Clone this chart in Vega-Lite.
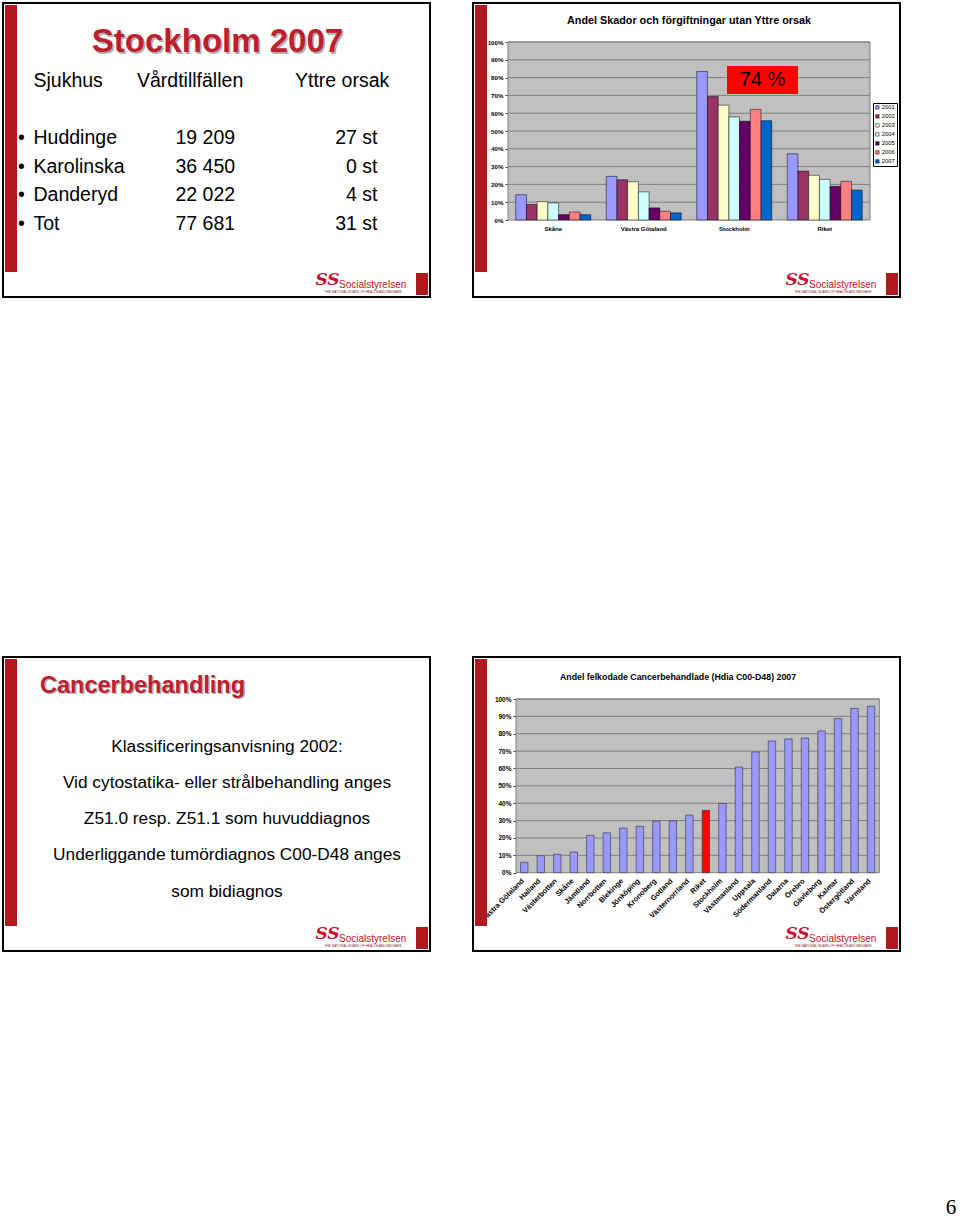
{
"$schema":"https://vega.github.io/schema/vega-lite/v6.json",
"width":960,"height":1218,"autosize":{"type":"none"},"padding":0,"background":"white",
"config":{"view":{"stroke":null},"font":"Liberation Sans","axis":{"labelFont":"Liberation Sans","labelColor":"black","domainColor":"#404040","tickColor":"#404040"},"legend":{"labelFont":"Liberation Sans"}},
"datasets":{
"slides":[{"c":0,"r":0},{"c":1,"r":0},{"c":0,"r":1},{"c":1,"r":1}],
"tl":[
{"a":"l","col":0,"line":0,"t":"Sjukhus"},{"a":"l","col":1,"line":0,"t":"Vårdtillfällen"},{"a":"l","col":3,"line":0,"t":"Yttre orsak"},
{"a":"l","col":-1,"line":2,"t":"•"},{"a":"l","col":-1,"line":3,"t":"•"},{"a":"l","col":-1,"line":4,"t":"•"},{"a":"l","col":-1,"line":5,"t":"•"},
{"a":"l","col":0,"line":2,"t":"Huddinge"},{"a":"l","col":0,"line":3,"t":"Karolinska"},{"a":"l","col":0,"line":4,"t":"Danderyd"},{"a":"l","col":0,"line":5,"t":"Tot"},
{"a":"l","col":2,"line":2,"t":"19 209"},{"a":"l","col":2,"line":3,"t":"36 450"},{"a":"l","col":2,"line":4,"t":"22 022"},{"a":"l","col":2,"line":5,"t":"77 681"},
{"a":"r","col":4,"line":2,"t":"27 st"},{"a":"r","col":4,"line":3,"t":"0 st"},{"a":"r","col":4,"line":4,"t":"4 st"},{"a":"r","col":4,"line":5,"t":"31 st"}],
"bl":[{"line":0,"t":"Klassificeringsanvisning 2002:"},{"line":1,"t":"Vid cytostatika- eller strålbehandling anges"},{"line":2,"t":"Z51.0 resp. Z51.1 som huvuddiagnos"},{"line":3,"t":"Underliggande tumördiagnos C00-D48 anges"},{"line":4,"t":"som bidiagnos"}],
"skador":[
{"region":"Skåne","year":"2001","value":0.142},{"region":"Skåne","year":"2002","value":0.087},{"region":"Skåne","year":"2003","value":0.103},{"region":"Skåne","year":"2004","value":0.096},{"region":"Skåne","year":"2005","value":0.030},{"region":"Skåne","year":"2006","value":0.045},{"region":"Skåne","year":"2007","value":0.030},
{"region":"Västra Götaland","year":"2001","value":0.245},{"region":"Västra Götaland","year":"2002","value":0.226},{"region":"Västra Götaland","year":"2003","value":0.215},{"region":"Västra Götaland","year":"2004","value":0.158},{"region":"Västra Götaland","year":"2005","value":0.068},{"region":"Västra Götaland","year":"2006","value":0.049},{"region":"Västra Götaland","year":"2007","value":0.040},
{"region":"Stockholm","year":"2001","value":0.834},{"region":"Stockholm","year":"2002","value":0.694},{"region":"Stockholm","year":"2003","value":0.645},{"region":"Stockholm","year":"2004","value":0.579},{"region":"Stockholm","year":"2005","value":0.555},{"region":"Stockholm","year":"2006","value":0.621},{"region":"Stockholm","year":"2007","value":0.558},
{"region":"Riket","year":"2001","value":0.372},{"region":"Riket","year":"2002","value":0.275},{"region":"Riket","year":"2003","value":0.251},{"region":"Riket","year":"2004","value":0.228},{"region":"Riket","year":"2005","value":0.189},{"region":"Riket","year":"2006","value":0.217},{"region":"Riket","year":"2007","value":0.168}],
"cancer":[
{"region":"Västra Götaland","value":0.060},{"region":"Halland","value":0.098},{"region":"Västerbotten","value":0.106},{"region":"Skåne","value":0.119},{"region":"Jämtland","value":0.215},{"region":"Norrbotten","value":0.230},{"region":"Blekinge","value":0.257},{"region":"Jönköping","value":0.267},{"region":"Kronoberg","value":0.296},{"region":"Gotland","value":0.298},{"region":"Västernorrland","value":0.332},{"region":"Riket","value":0.359},{"region":"Stockholm","value":0.399},{"region":"Västmanland","value":0.608},{"region":"Uppsala","value":0.695},{"region":"Södermanland","value":0.758},{"region":"Dalarna","value":0.770},{"region":"Örebro","value":0.775},{"region":"Gävleborg","value":0.816},{"region":"Kalmar","value":0.887},{"region":"Östergötland","value":0.946},{"region":"Värmland","value":0.958}],
"grid":[{"v":0.1},{"v":0.2},{"v":0.3},{"v":0.4},{"v":0.5},{"v":0.6},{"v":0.7},{"v":0.8},{"v":0.9},{"v":1.0}]
},
"layer":[
{"data":{"name":"slides"},"mark":{"type":"rect","filled":false,"stroke":"black","strokeWidth":2},
 "encoding":{"x":{"field":"c","type":"ordinal","axis":null,"scale":{"type":"band","range":[3,900],"paddingInner":0.091489,"paddingOuter":0}},
 "y":{"field":"r","type":"ordinal","axis":null,"scale":{"type":"band","range":[3,951],"paddingInner":0.550459,"paddingOuter":0}}}},
{"data":{"name":"slides"},"mark":{"type":"rect","color":"#B2191E"},
 "encoding":{"x":{"field":"c","type":"ordinal","axis":null,"scale":{"type":"band","range":[5,487],"paddingInner":0.974468,"paddingOuter":0}},
 "y":{"field":"r","type":"ordinal","axis":null,"scale":{"type":"band","range":[5,926],"paddingInner":0.591743,"paddingOuter":0}}}},
{"data":{"name":"slides"},"mark":{"type":"rect","color":"#B2191E"},
 "encoding":{"x":{"field":"c","type":"ordinal","axis":null,"scale":{"type":"band","range":[416,898],"paddingInner":0.974468,"paddingOuter":0}},
 "y":{"field":"r","type":"ordinal","axis":null,"scale":{"type":"band","range":[273,949],"paddingInner":0.966361,"paddingOuter":0}}}},
{"data":{"name":"slides"},"mark":{"type":"text","font":"DejaVu Serif","fontSize":17,"fontWeight":"bold","fontStyle":"italic","color":"#C8102E","align":"center","baseline":"alphabetic"},
 "encoding":{"text":{"value":"SS"},"x":{"field":"c","type":"ordinal","axis":null,"scale":{"type":"point","range":[327.5,797.5],"padding":0}},
 "y":{"field":"r","type":"ordinal","axis":null,"scale":{"type":"point","range":[285,939],"padding":0}}}},
{"data":{"name":"slides"},"mark":{"type":"text","fontSize":10,"color":"#C8102E","align":"left","baseline":"alphabetic"},
 "encoding":{"text":{"value":"Socialstyrelsen"},"x":{"field":"c","type":"ordinal","axis":null,"scale":{"type":"point","range":[339,809],"padding":0}},
 "y":{"field":"r","type":"ordinal","axis":null,"scale":{"type":"point","range":[287.5,941.5],"padding":0}}}},
{"data":{"name":"slides"},"mark":{"type":"text","fontSize":3.2,"color":"#8A2030","align":"center","baseline":"alphabetic"},
 "encoding":{"text":{"value":"THE NATIONAL BOARD OF HEALTH AND WELFARE"},"x":{"field":"c","type":"ordinal","axis":null,"scale":{"type":"point","range":[363,833],"padding":0}},
 "y":{"field":"r","type":"ordinal","axis":null,"scale":{"type":"point","range":[292.5,946.5],"padding":0}}}},
{"data":{"values":[{"p":"6"}]},"mark":{"type":"text","font":"Liberation Serif","fontSize":21,"color":"black","align":"center","baseline":"alphabetic"},
 "encoding":{"text":{"field":"p"},"x":{"field":"p","type":"nominal","axis":null,"scale":{"type":"point","range":[951,951]}},
 "y":{"field":"p","type":"nominal","axis":null,"scale":{"type":"point","range":[1214,1214]}}}},

{"data":{"values":[{"t":"Stockholm 2007"}]},"mark":{"type":"text","fontSize":33,"fontWeight":"bold","color":"#B0B0B0","align":"center","baseline":"alphabetic","dx":1.5,"dy":1.5},
 "encoding":{"text":{"field":"t"},"x":{"field":"t","type":"nominal","axis":null,"scale":{"type":"point","range":[217.5,217.5]}},
 "y":{"field":"t","type":"nominal","axis":null,"scale":{"type":"point","range":[52,52]}}}},
{"data":{"values":[{"t":"Stockholm 2007"}]},"mark":{"type":"text","fontSize":33,"fontWeight":"bold","color":"#BE1E2D","align":"center","baseline":"alphabetic"},
 "encoding":{"text":{"field":"t"},"x":{"field":"t","type":"nominal","axis":null,"scale":{"type":"point","range":[217.5,217.5]}},
 "y":{"field":"t","type":"nominal","axis":null,"scale":{"type":"point","range":[52,52]}}}},
{"data":{"name":"tl"},"transform":[{"filter":"datum.a === 'l'"}],"mark":{"type":"text","fontSize":19.5,"color":"black","align":"left","baseline":"alphabetic"},
 "encoding":{"text":{"field":"t"},
 "x":{"field":"col","type":"quantitative","axis":null,"scale":{"domain":[-1,0,1,2,3,4],"range":[18,33.5,137,175.5,295,377.5],"nice":false,"zero":false}},
 "y":{"field":"line","type":"quantitative","axis":null,"scale":{"domain":[0,5],"range":[87,229.5],"nice":false,"zero":false}}}},
{"data":{"name":"tl"},"transform":[{"filter":"datum.a === 'r'"}],"mark":{"type":"text","fontSize":19.5,"color":"black","align":"right","baseline":"alphabetic"},
 "encoding":{"text":{"field":"t"},
 "x":{"field":"col","type":"quantitative","axis":null,"scale":{"domain":[-1,0,1,2,3,4],"range":[18,33.5,137,175.5,295,377.5],"nice":false,"zero":false}},
 "y":{"field":"line","type":"quantitative","axis":null,"scale":{"domain":[0,5],"range":[87,229.5],"nice":false,"zero":false}}}},

{"data":{"values":[{"t":"Cancerbehandling"}]},"mark":{"type":"text","fontSize":23.5,"fontWeight":"bold","color":"#B0B0B0","align":"left","baseline":"alphabetic","dx":1.5,"dy":1.5},
 "encoding":{"text":{"field":"t"},"x":{"field":"t","type":"nominal","axis":null,"scale":{"type":"point","range":[40,40]}},
 "y":{"field":"t","type":"nominal","axis":null,"scale":{"type":"point","range":[692.5,692.5]}}}},
{"data":{"values":[{"t":"Cancerbehandling"}]},"mark":{"type":"text","fontSize":23.5,"fontWeight":"bold","color":"#BE1E2D","align":"left","baseline":"alphabetic"},
 "encoding":{"text":{"field":"t"},"x":{"field":"t","type":"nominal","axis":null,"scale":{"type":"point","range":[40,40]}},
 "y":{"field":"t","type":"nominal","axis":null,"scale":{"type":"point","range":[692.5,692.5]}}}},
{"data":{"name":"bl"},"mark":{"type":"text","fontSize":17.3,"color":"black","align":"center","baseline":"alphabetic"},
 "encoding":{"text":{"field":"t"},
 "x":{"datum":"body","type":"nominal","axis":null,"scale":{"type":"point","range":[227,227]}},
 "y":{"field":"line","type":"quantitative","axis":null,"scale":{"domain":[0,4],"range":[752,896.5],"nice":false,"zero":false}}}},

{"data":{"values":[{}]},"mark":{"type":"rect","fill":"#C0C0C0","stroke":"#808080","strokeWidth":1},
 "encoding":{"x":{"datum":0,"type":"quantitative","axis":null,"scale":{"domain":[0,1],"range":[508,870],"nice":false,"zero":false}},"x2":{"datum":1},
 "y":{"datum":0,"type":"quantitative","axis":null,"scale":{"domain":[0,1],"range":[220,42],"nice":false,"zero":false}},"y2":{"datum":1}}},
{"data":{"name":"grid"},"mark":{"type":"rule","stroke":"#808080","strokeWidth":1},
 "encoding":{"x":{"datum":0,"type":"quantitative","axis":null,"scale":{"domain":[0,1],"range":[508,870],"nice":false,"zero":false}},"x2":{"datum":1},
 "y":{"field":"v","type":"quantitative","scale":{"domain":[0,1],"range":[220,42],"nice":false,"zero":false},
  "axis":{"orient":"left","offset":-508,"values":[0,0.1,0.2,0.3,0.4,0.5,0.6,0.7,0.8,0.9,1],"format":".0%","grid":false,"domain":false,"tickSize":3,"labelPadding":2,"labelFontSize":6.2,"labelFontWeight":"bold","title":null}}}},
{"data":{"name":"skador"},"mark":{"type":"bar","stroke":"black","strokeWidth":0.5},
 "encoding":{
 "x":{"field":"region","type":"nominal","sort":null,"scale":{"type":"band","range":[508,870],"paddingInner":0.171,"paddingOuter":0.0855},
  "axis":{"orient":"bottom","offset":-998,"labelAngle":0,"ticks":false,"domain":false,"labelPadding":5,"labelFontSize":6,"labelFontWeight":"bold","title":null}},
 "xOffset":{"field":"year","type":"nominal","scale":{"paddingInner":0,"paddingOuter":0}},
 "y":{"field":"value","type":"quantitative","axis":null,"scale":{"domain":[0,1],"range":[220,42],"nice":false,"zero":false}},
 "color":{"field":"year","type":"nominal","scale":{"domain":["2001","2002","2003","2004","2005","2006","2007"],"range":["#9999FF","#993366","#FFFFCC","#CCFFFF","#660066","#FF8080","#0066CC"]},
  "legend":{"orient":"none","legendX":873,"legendY":103,"title":null,"labelFontSize":5.8,"labelColor":"black","symbolType":"square","symbolSize":12,"symbolStrokeColor":"black","symbolStrokeWidth":0.5,"rowPadding":2,"padding":1.5,"labelOffset":1.5,"strokeColor":"black","fillColor":"white"}}}},
{"data":{"values":[{}]},"mark":{"type":"rect","fill":"#FF0000"},
 "encoding":{"x":{"datum":0.605,"type":"quantitative","axis":null,"scale":{"domain":[0,1],"range":[508,870],"nice":false,"zero":false}},"x2":{"datum":0.801},
 "y":{"datum":0.708,"type":"quantitative","axis":null,"scale":{"domain":[0,1],"range":[220,42],"nice":false,"zero":false}},"y2":{"datum":0.865}}},
{"data":{"values":[{"t":"74 %"}]},"mark":{"type":"text","fontSize":20,"color":"black","align":"center","baseline":"middle"},
 "encoding":{"text":{"field":"t"},"x":{"datum":0.703,"type":"quantitative","axis":null,"scale":{"domain":[0,1],"range":[508,870],"nice":false,"zero":false}},
 "y":{"datum":0.784,"type":"quantitative","axis":null,"scale":{"domain":[0,1],"range":[220,42],"nice":false,"zero":false}}}},
{"data":{"values":[{"t":"Andel Skador och förgiftningar utan Yttre orsak"}]},"mark":{"type":"text","fontSize":10.8,"fontWeight":"bold","color":"black","align":"center","baseline":"alphabetic"},
 "encoding":{"text":{"field":"t"},"x":{"datum":0.5,"type":"quantitative","axis":null,"scale":{"domain":[0,1],"range":[508,870],"nice":false,"zero":false}},
 "y":{"datum":1.101,"type":"quantitative","axis":null,"scale":{"domain":[0,1],"range":[220,42],"nice":false,"zero":false}}}},

{"data":{"values":[{}]},"mark":{"type":"rect","fill":"#C0C0C0","stroke":"#808080","strokeWidth":1},
 "encoding":{"x":{"datum":0,"type":"quantitative","axis":null,"scale":{"domain":[0,1],"range":[516,879.3],"nice":false,"zero":false}},"x2":{"datum":1},
 "y":{"datum":0,"type":"quantitative","axis":null,"scale":{"domain":[0,1],"range":[872.7,699],"nice":false,"zero":false}},"y2":{"datum":1}}},
{"data":{"name":"grid"},"mark":{"type":"rule","stroke":"#808080","strokeWidth":1},
 "encoding":{"x":{"datum":0,"type":"quantitative","axis":null,"scale":{"domain":[0,1],"range":[516,879.3],"nice":false,"zero":false}},"x2":{"datum":1},
 "y":{"field":"v","type":"quantitative","scale":{"domain":[0,1],"range":[872.7,699],"nice":false,"zero":false},
  "axis":{"orient":"left","offset":-516,"values":[0,0.1,0.2,0.3,0.4,0.5,0.6,0.7,0.8,0.9,1],"format":".0%","grid":false,"domain":false,"tickSize":3,"labelPadding":2,"labelFontSize":6.5,"labelFontWeight":"bold","title":null}}}},
{"data":{"name":"cancer"},"mark":{"type":"bar","stroke":"#333333","strokeWidth":0.6},
 "encoding":{
 "x":{"field":"region","type":"nominal","sort":null,"scale":{"type":"band","range":[516,879.3],"paddingInner":0.55,"paddingOuter":0.275},
  "axis":{"orient":"bottom","offset":-345.3,"labelAngle":-45,"labelAlign":"right","labelBaseline":"top","labelOffset":-4,"ticks":false,"domain":false,"labelPadding":4,"labelFontSize":7.4,"labelFontWeight":"bold","title":null}},
 "y":{"field":"value","type":"quantitative","axis":null,"scale":{"domain":[0,1],"range":[872.7,699],"nice":false,"zero":false}},
 "color":{"condition":{"test":"datum.region === 'Riket'","value":"#FF0000"},"value":"#9999FF"}}},
{"data":{"values":[{"t":"Andel felkodade Cancerbehandlade (Hdia C00-D48) 2007"}]},"mark":{"type":"text","fontSize":8.8,"fontWeight":"bold","color":"black","align":"center","baseline":"alphabetic"},
 "encoding":{"text":{"field":"t"},"x":{"datum":0.446,"type":"quantitative","axis":null,"scale":{"domain":[0,1],"range":[516,879.3],"nice":false,"zero":false}},
 "y":{"datum":1.112,"type":"quantitative","axis":null,"scale":{"domain":[0,1],"range":[872.7,699],"nice":false,"zero":false}}}}
],
"resolve":{"scale":{"x":"independent","y":"independent","color":"independent"},"axis":{"x":"independent","y":"independent"},"legend":{"color":"independent"}}
}
